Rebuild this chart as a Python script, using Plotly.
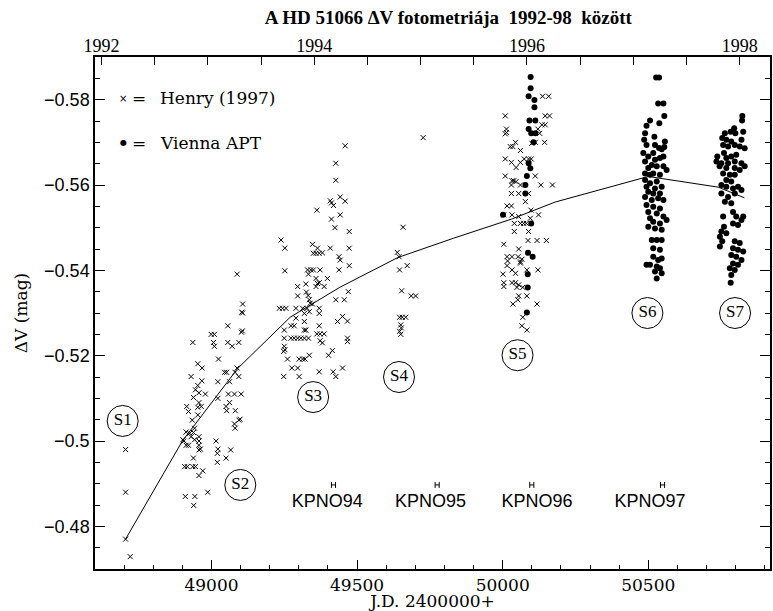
import plotly.graph_objects as go

# ---------------- data ----------------
# Henry (1997) photometry (x symbols): J.D.-2400000, Delta V (mag)
henry_jd = [
    # S1
    48705, 48705, 48705, 48721,
    # S2
    49088, 49107, 49104, 49107, 49106, 49103, 49056, 48936, 48999, 49010, 49007, 49010, 49056, 49071,
    49094, 49024, 48953, 48968, 48930, 49045, 49052, 49081, 49088, 49094, 49022, 49062, 48967, 48953,
    48945, 48957, 48979, 48938, 49022, 49058, 49079, 49102, 48915, 48921, 48957, 48953, 48965, 49050,
    49062, 49052, 48934, 48953, 49082, 49094, 49098, 49079, 49081, 48913, 48925, 48942, 48938, 48902,
    48905, 48913, 48921, 48930, 48942, 48957, 48957, 48957, 48957, 48962, 49016, 49022, 49020, 49020,
    49066, 49050, 48938, 48908, 48917, 48936, 48945, 48970, 48957, 48987, 48910, 48943, 48939,
    # S3
    49459, 49427, 49427, 49408, 49412, 49419, 49442, 49459, 49362, 49412, 49442, 49424, 49473, 49239,
    49252, 49252, 49347, 49364, 49359, 49370, 49381, 49350, 49408, 49473, 49438, 49442, 49473, 49438,
    49330, 49341, 49350, 49333, 49373, 49359, 49364, 49370, 49398, 49296, 49324, 49359, 49387, 49296,
    49326, 49332, 49470, 49336, 49339, 49347, 49427, 49456, 49233, 49244, 49256, 49290, 49313, 49319,
    49328, 49336, 49370, 49370, 49290, 49319, 49433, 49450, 49467, 49250, 49273, 49284, 49319, 49324,
    49370, 49250, 49273, 49284, 49296, 49307, 49319, 49333, 49362, 49373, 49387, 49373, 49381, 49467,
    49467, 49250, 49252, 49248, 49415, 49402, 49336, 49261, 49301, 49313, 49321, 49276, 49296, 49450,
    49370, 49418, 49427, 49248, 49301,
    # S4
    49727, 49658, 49638, 49644, 49646, 49672, 49653, 49686, 49701, 49646, 49655, 49667, 49650, 49652,
    49646, 49650,
    # S5
    50009, 50013, 50013, 50009, 50146, 50161, 50135, 50146, 50121, 50127, 50144, 50112, 50100, 50026,
    50044, 50035, 50061, 50009, 50030, 50046, 50061, 50074, 50089, 50098, 50009, 50032, 50030, 50038,
    50046, 50061, 50112, 50131, 50171, 50030, 50055, 50089, 50078, 50015, 50030, 50004, 50032, 50055,
    50097, 50123, 50040, 50061, 50072, 50081, 50095, 50040, 50089, 50087, 50118, 50150, 50004, 50055,
    50015, 50017, 50015, 50032, 50053, 50061, 50066, 50061, 50001, 50032, 50044, 50083, 50121, 50004,
    50004, 50032, 50044, 50055, 50049, 50069, 50055, 50052, 50083, 50035, 50118, 50069, 50066, 50083,
    50137, 50158,
]
henry_v = [
    # S1
    -0.498, -0.488, -0.477, -0.4729,
    # S2
    -0.5391, -0.5321, -0.5302, -0.5300, -0.5258, -0.5255, -0.5270, -0.5231, -0.5250, -0.5250, -0.5231, -0.5222, -0.5231, -0.5222,
    -0.5231, -0.5192, -0.5181, -0.5171, -0.5151, -0.5161, -0.5161, -0.5161, -0.5171, -0.5151, -0.5139, -0.5139, -0.5141, -0.5130,
    -0.5120, -0.5113, -0.5110, -0.5102, -0.5100, -0.5110, -0.5110, -0.5110, -0.5081, -0.5069, -0.5090, -0.5079, -0.5081, -0.5081,
    -0.5090, -0.5071, -0.5049, -0.5061, -0.5071, -0.5049, -0.5051, -0.5040, -0.5030, -0.5021, -0.5018, -0.5030, -0.5020, -0.5003,
    -0.5000, -0.4990, -0.4990, -0.5010, -0.5003, -0.5010, -0.5000, -0.4990, -0.4979, -0.4981, -0.5000, -0.4981, -0.4971, -0.4950,
    -0.4979, -0.4960, -0.4960, -0.4940, -0.4940, -0.4940, -0.4940, -0.4930, -0.4919, -0.4880, -0.4870, -0.4870, -0.4849,
    # S3
    -0.5692, -0.5651, -0.5611, -0.5563, -0.5558, -0.5552, -0.5572, -0.5562, -0.5541, -0.5520, -0.5530, -0.5500, -0.5491, -0.5471,
    -0.5452, -0.5399, -0.5461, -0.5452, -0.5440, -0.5440, -0.5441, -0.5440, -0.5452, -0.5452, -0.5432, -0.5424, -0.5411, -0.5401,
    -0.5401, -0.5401, -0.5401, -0.5391, -0.5401, -0.5381, -0.5369, -0.5371, -0.5381, -0.5362, -0.5368, -0.5362, -0.5362, -0.5340,
    -0.5349, -0.5341, -0.5350, -0.5331, -0.5323, -0.5321, -0.5331, -0.5331, -0.5311, -0.5311, -0.5311, -0.5311, -0.5311, -0.5299,
    -0.5311, -0.5303, -0.5311, -0.5299, -0.5288, -0.5280, -0.5280, -0.5292, -0.5281, -0.5260, -0.5270, -0.5270, -0.5260, -0.5260,
    -0.5270, -0.5241, -0.5241, -0.5241, -0.5241, -0.5241, -0.5241, -0.5241, -0.5251, -0.5251, -0.5251, -0.5235, -0.5230, -0.5241,
    -0.5233, -0.5222, -0.5214, -0.5210, -0.5212, -0.5201, -0.5201, -0.5192, -0.5192, -0.5192, -0.5192, -0.5171, -0.5171, -0.5171,
    -0.5162, -0.5162, -0.5151, -0.5151, -0.5151,
    # S4
    -0.5711, -0.5501, -0.5442, -0.5432, -0.5401, -0.5411, -0.5352, -0.5340, -0.5340, -0.5290, -0.5290, -0.5290, -0.5272, -0.5265,
    -0.5257, -0.5250,
    # S5
    -0.5762, -0.5731, -0.5723, -0.5720, -0.5762, -0.5762, -0.5741, -0.5741, -0.5731, -0.5721, -0.5700, -0.5700, -0.5698, -0.5690,
    -0.5700, -0.5690, -0.5681, -0.5661, -0.5653, -0.5641, -0.5653, -0.5661, -0.5661, -0.5661, -0.5621, -0.5610, -0.5600, -0.5610,
    -0.5608, -0.5600, -0.5621, -0.5600, -0.5600, -0.5580, -0.5580, -0.5580, -0.5561, -0.5551, -0.5551, -0.5530, -0.5530, -0.5526,
    -0.5541, -0.5530, -0.5510, -0.5510, -0.5510, -0.5510, -0.5522, -0.5491, -0.5491, -0.5470, -0.5470, -0.5470, -0.5461, -0.5450,
    -0.5432, -0.5422, -0.5411, -0.5432, -0.5432, -0.5420, -0.5426, -0.5417, -0.5391, -0.5401, -0.5393, -0.5401, -0.5401, -0.5371,
    -0.5362, -0.5371, -0.5371, -0.5366, -0.5360, -0.5360, -0.5340, -0.5331, -0.5340, -0.5321, -0.5321, -0.5290, -0.5270, -0.5260,
    -0.5808, -0.5808,
]

# Vienna APT photometry (filled dots)
apt_jd = [
    # S5
    50096, 50096, 50089, 50109, 50109, 50092, 50112, 50089, 50112, 50098, 50106, 50089, 50095, 50083,
    50078, 50078, 50001, 50098, 50087, 50103, 50086, 50086, 50083,
    # S6
    50527, 50537, 50534, 50552, 50555, 50506, 50494, 50538, 50489, 50486, 50494, 50521, 50523, 50557,
    50555, 50537, 50546, 50483, 50500, 50517, 50523, 50540, 50552, 50489, 50512, 50500, 50529, 50552,
    50563, 50489, 50506, 50517, 50540, 50489, 50506, 50529, 50494, 50523, 50546, 50500, 50517, 50540,
    50489, 50512, 50534, 50552, 50494, 50517, 50540, 50500, 50529, 50552, 50506, 50517, 50540, 50563,
    50500, 50523, 50546, 50512, 50529, 50546, 50517, 50540, 50517, 50534, 50546, 50506, 50494, 50529,
    50540, 50523, 50546, 50529,
    # S7
    50823, 50822, 50795, 50783, 50799, 50763, 50826, 50754, 50768, 50785, 50820, 50757, 50774, 50797,
    50831, 50814, 50760, 50737, 50768, 50785, 50802, 50734, 50751, 50774, 50797, 50820, 50831, 50745,
    50768, 50797, 50814, 50757, 50780, 50797, 50768, 50785, 50751, 50768, 50791, 50820, 50808, 50751,
    50774, 50797, 50763, 50785, 50791, 50802, 50820, 50791, 50808, 50826, 50757, 50760, 50751, 50768,
    50746, 50754, 50746, 50797, 50814, 50791, 50808, 50826, 50785, 50802, 50820, 50791, 50808, 50780,
    50797, 50785, 50783,
]
apt_v = [
    # S5
    -0.5853, -0.5827, -0.5808, -0.5799, -0.5782, -0.5751, -0.5751, -0.5731, -0.5721, -0.5721, -0.5700, -0.5651, -0.5639, -0.5621,
    -0.5600, -0.5580, -0.5530, -0.5510, -0.5441, -0.5432, -0.5391, -0.5360, -0.5301,
    # S6
    -0.5852, -0.5852, -0.5791, -0.5791, -0.5762, -0.5751, -0.5739, -0.5745, -0.5721, -0.5706, -0.5694, -0.5713, -0.5694, -0.5702,
    -0.5689, -0.5687, -0.5684, -0.5675, -0.5667, -0.5675, -0.5659, -0.5663, -0.5667, -0.5655, -0.5647, -0.5640, -0.5644, -0.5644,
    -0.5635, -0.5627, -0.5624, -0.5627, -0.5624, -0.5612, -0.5604, -0.5608, -0.5596, -0.5592, -0.5596, -0.5584, -0.5580, -0.5580,
    -0.5572, -0.5565, -0.5569, -0.5565, -0.5553, -0.5549, -0.5545, -0.5537, -0.5533, -0.5526, -0.5522, -0.5514, -0.5510, -0.5518,
    -0.5502, -0.5498, -0.5495, -0.5471, -0.5471, -0.5471, -0.5452, -0.5448, -0.5432, -0.5424, -0.5428, -0.5413, -0.5413, -0.5409,
    -0.5405, -0.5397, -0.5393, -0.5381,
    # S7
    -0.5762, -0.5751, -0.5733, -0.5725, -0.5721, -0.5721, -0.5725, -0.5710, -0.5706, -0.5702, -0.5706, -0.5694, -0.5690, -0.5694,
    -0.5686, -0.5690, -0.5675, -0.5667, -0.5663, -0.5667, -0.5671, -0.5655, -0.5651, -0.5651, -0.5655, -0.5651, -0.5644, -0.5644,
    -0.5640, -0.5640, -0.5635, -0.5627, -0.5624, -0.5624, -0.5612, -0.5608, -0.5600, -0.5596, -0.5592, -0.5588, -0.5596, -0.5580,
    -0.5572, -0.5580, -0.5561, -0.5557, -0.5537, -0.5526, -0.5518, -0.5510, -0.5506, -0.5526, -0.5526, -0.5502, -0.5491, -0.5487,
    -0.5479, -0.5468, -0.5456, -0.5468, -0.5464, -0.5452, -0.5448, -0.5444, -0.5436, -0.5432, -0.5424, -0.5416, -0.5413, -0.5405,
    -0.5401, -0.5389, -0.5371,
]

# smooth trend line
trend_jd = [48705, 48900, 49090, 49270, 49440, 49640, 49830, 50030, 50180, 50500, 50740, 50830]
trend_v = [-0.477, -0.500, -0.517, -0.529, -0.536, -0.543, -0.5475, -0.552, -0.556, -0.562, -0.5595, -0.557]

# season labels
season_names = ["S1", "S2", "S3", "S4", "S5", "S6", "S7"]
season_jd = [48695, 49099, 49349, 49644, 50051, 50497, 50798]
season_v = [-0.5047, -0.4897, -0.5103, -0.5150, -0.5201, -0.5300, -0.5300]

# KPNO observing runs
kpno_names = ["KPNO94", "KPNO95", "KPNO96", "KPNO97"]
kpno_mid_jd = [49419, 49775, 50100, 50549]
kpno_half_len = [7, 7, 7, 7]
kpno_bar_v = -0.4897
kpno_label_jd = [49398, 49752, 50118, 50506]
kpno_label_v = -0.4857

# axes
x_range = [48600, 50918]
y_range = [-0.47, -0.59]
year_ticks = [1992 + 0.5 * i for i in range(13)]
year_text = [str(int(t)) if t % 2 == 0 else "" for t in year_ticks]

def jd_to_year(jd):
    return 1992.0 + (jd - 48622.5) / 365.25

# ---------------- figure ----------------
fig = go.Figure()

fig.add_trace(go.Scatter(x=trend_jd, y=trend_v, mode="lines",
                         line=dict(color="black", width=1), showlegend=False))
fig.add_trace(go.Scatter(x=henry_jd, y=henry_v, mode="markers",
                         marker=dict(symbol="x-thin", size=5, line=dict(color="black", width=1), color="black"),
                         showlegend=False))
fig.add_trace(go.Scatter(x=apt_jd, y=apt_v, mode="markers",
                         marker=dict(symbol="circle", size=6, color="black"),
                         showlegend=False))
fig.add_trace(go.Scatter(x=season_jd, y=season_v, mode="markers+text", text=season_names,
                         textposition="middle center",
                         textfont=dict(family="Liberation Serif", size=17, color="black"),
                         marker=dict(symbol="circle-open", size=31, color="black", line=dict(width=1, color="black")),
                         showlegend=False))
fig.add_trace(go.Scatter(x=kpno_mid_jd, y=[kpno_bar_v] * len(kpno_mid_jd), mode="markers",
                         marker=dict(size=1, color="rgba(0,0,0,0)"),
                         error_x=dict(type="data", array=kpno_half_len, symmetric=True,
                                      color="black", thickness=1, width=3),
                         showlegend=False))
fig.add_trace(go.Scatter(x=kpno_label_jd, y=[kpno_label_v] * len(kpno_label_jd), mode="text",
                         text=kpno_names, textposition="middle center",
                         textfont=dict(family="Liberation Sans", size=18, color="black"),
                         showlegend=False))
# dummy trace for top (year) axis
fig.add_trace(go.Scatter(x=[jd_to_year(x_range[0])], y=[None], xaxis="x2", yaxis="y",
                         mode="markers", showlegend=False, hoverinfo="skip"))

ann_font = dict(family="DejaVu Serif", size=17, color="black")
annotations = [
    dict(x=0.0419, y=0.9193, xref="paper", yref="paper", text="×", showarrow=False,
         font=dict(family="DejaVu Sans", size=10, color="black"), xanchor="center", yanchor="middle"),
    dict(x=0.0655, y=0.9193, xref="paper", yref="paper", text="=", showarrow=False,
         font=ann_font, xanchor="center", yanchor="middle"),
    dict(x=0.0936, y=0.9193, xref="paper", yref="paper", text="Henry (1997)", showarrow=False,
         font=ann_font, xanchor="left", yanchor="middle"),
    dict(x=0.0419, y=0.8326, xref="paper", yref="paper", text="●", showarrow=False,
         font=dict(family="DejaVu Sans", size=8, color="black"), xanchor="center", yanchor="middle"),
    dict(x=0.0655, y=0.8326, xref="paper", yref="paper", text="=", showarrow=False,
         font=ann_font, xanchor="center", yanchor="middle"),
    dict(x=0.0936, y=0.8326, xref="paper", yref="paper", text="Vienna APT", showarrow=False,
         font=ann_font, xanchor="left", yanchor="middle"),
]

fig.update_layout(
    width=773, height=611,
    margin=dict(l=95, r=1, t=57, b=42),
    paper_bgcolor="white", plot_bgcolor="white",
    title=dict(text="<b>A HD 51066 ΔV fotometriája  1992-98  között</b>",
               x=0.58, xanchor="center", y=1 - 17 / 611, yanchor="middle", yref="container",
               font=dict(family="Liberation Serif", size=19, color="black")),
    annotations=annotations,
    showlegend=False,
    xaxis=dict(range=x_range, dtick=500, tick0=49000, tickformat="d", ticks="inside", ticklen=9, tickwidth=1,
               tickcolor="black", minor=dict(dtick=100, ticks="inside", ticklen=4, tickcolor="black"),
               showline=True, linecolor="black", linewidth=1.5, mirror=True, showgrid=False, zeroline=False,
               tickfont=dict(family="DejaVu Serif", size=17, color="black"),
               title=dict(text="J.D. 2400000+", standoff=2,
                          font=dict(family="DejaVu Serif", size=17, color="black"))),
    xaxis2=dict(range=[jd_to_year(x_range[0]), jd_to_year(x_range[1])], overlaying="x", side="top",
                anchor="y", tickvals=year_ticks, ticktext=year_text, ticks="inside", ticklen=8,
                tickcolor="black", showline=False, showgrid=False, zeroline=False,
                tickfont=dict(family="Liberation Serif", size=18, color="black")),
    yaxis=dict(range=y_range, dtick=0.02, tick0=-0.58, ticks="inside", ticklen=10, tickcolor="black",
               minor=dict(dtick=0.005, ticks="inside", ticklen=5, tickcolor="black"),
               showline=True, linecolor="black", linewidth=1.5, mirror="ticks", showgrid=False, zeroline=False,
               tickfont=dict(family="Liberation Sans", size=18, color="black"),
               title=dict(text="ΔV (mag)", standoff=12,
                          font=dict(family="DejaVu Serif", size=17, color="black"))),
)

fig.write_html("out.html")
